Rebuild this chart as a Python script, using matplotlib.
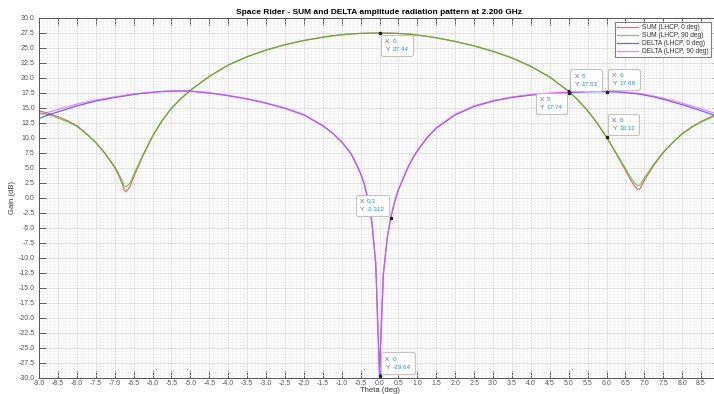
import numpy as np
import matplotlib
matplotlib.use("Agg")
import matplotlib.pyplot as plt
from matplotlib.ticker import MultipleLocator, FixedLocator, FormatStrFormatter
from matplotlib.offsetbox import TextArea, HPacker, VPacker, AnnotationBbox

plt.rcParams['font.family'] = ['Liberation Sans', 'DejaVu Sans']

# theta grid (deg), denser near the nulls
theta = [-9, -8.75, -8.5, -8.25, -8, -7.75, -7.5, -7.25, -7, -6.9, -6.8, -6.75, -6.7, -6.6,
         -6.5, -6.25, -6, -5.75, -5.5, -5.25, -5, -4.5, -4, -3.5, -3, -2.5, -2, -1.5, -1.25,
         -1, -0.75, -0.6, -0.5, -0.4, -0.3, -0.2, -0.1, 0, 0.1, 0.2, 0.3, 0.4, 0.5, 0.6, 0.75,
         0.9, 1, 1.25, 1.5, 2, 2.5, 3, 3.5, 4, 4.5, 5, 5.25, 5.5, 5.75, 6, 6.25, 6.5, 6.6, 6.7,
         6.8, 6.85, 6.9, 7, 7.25, 7.5, 7.75, 8, 8.25, 8.5, 8.75, 9]

sum_0 = [14.5, 14.05, 13.5, 12.85, 12.0, 10.7, 9.2, 7.3, 5.0, 3.8, 2.3, 1.3, 1.0, 1.8,
         3.4, 7.0, 10.2, 12.8, 14.9, 16.5, 17.9, 20.2, 22.1, 23.5, 24.6, 25.5, 26.2, 26.75, 26.98,
         27.15, 27.3, 27.35, 27.38, 27.4, 27.42, 27.43, 27.44, 27.44, 27.44, 27.43, 27.42, 27.4, 27.37, 27.34, 27.28,
         27.17, 27.1, 26.9, 26.65, 26.05, 25.3, 24.4, 23.3, 21.9, 20.1, 17.74, 16.25, 14.5, 12.45, 10.11, 7.4, 4.6, 3.4, 2.3,
         1.5, 1.35, 1.6, 2.9, 5.4, 7.5, 9.2, 10.7, 11.8, 12.7, 13.45, 14.1]

sum_90 = [14.2, 13.8, 13.3, 12.65, 11.9, 10.65, 9.2, 7.4, 5.2, 4.1, 2.8, 2.0, 1.8, 2.4,
          3.8, 7.2, 10.3, 12.85, 14.9, 16.5, 17.9, 20.2, 22.1, 23.5, 24.6, 25.5, 26.2, 26.75, 26.98,
          27.15, 27.3, 27.35, 27.38, 27.4, 27.42, 27.43, 27.44, 27.44, 27.44, 27.43, 27.42, 27.4, 27.37, 27.34, 27.28,
          27.17, 27.1, 26.9, 26.65, 26.05, 25.3, 24.4, 23.3, 21.9, 20.1, 17.74, 16.25, 14.5, 12.45, 10.11, 7.5, 4.9, 3.8, 2.8,
          2.1, 2.0, 2.2, 3.3, 5.6, 7.6, 9.2, 10.6, 11.7, 12.6, 13.3, 13.9]

delta_0 = [13.2, 13.8, 14.3, 14.8, 15.3, 15.7, 16.1, 16.4, 16.7, 16.8, 16.9, 16.95, 17.0, 17.1,
           17.2, 17.4, 17.55, 17.68, 17.75, 17.78, 17.75, 17.45, 17.0, 16.45, 15.75, 14.9, 13.8, 12.0, 10.8,
           9.3, 7.3, 5.4, 4.0, 2.2, -0.4, -4.2, -11.0, -29.64, -13.0, -6.9, -3.312, -0.7, 1.3, 2.8, 5.0,
           6.8, 7.8, 9.9, 11.6, 13.8, 15.2, 16.1, 16.7, 17.1, 17.35, 17.53, 17.6, 17.65, 17.67, 17.68, 17.62, 17.5, 17.45, 17.38,
           17.3, 17.27, 17.23, 17.1, 16.8, 16.4, 15.95, 15.5, 15.0, 14.5, 13.95, 13.4]

delta_90 = [13.8, 14.25, 14.7, 15.15, 15.6, 15.95, 16.3, 16.55, 16.8, 16.9, 17.0, 17.05, 17.1, 17.2,
            17.3, 17.45, 17.6, 17.72, 17.8, 17.8, 17.78, 17.5, 17.05, 16.5, 15.8, 14.95, 13.85, 12.05, 10.85,
            9.35, 7.35, 5.5, 4.1, 2.3, -0.3, -4.1, -10.8, -29.3, -12.8, -6.8, -3.2, -0.6, 1.4, 2.9, 5.1,
            6.9, 7.9, 10.0, 11.7, 13.9, 15.3, 16.2, 16.8, 17.2, 17.45, 17.6, 17.67, 17.72, 17.74, 17.75, 17.7, 17.6, 17.55, 17.48,
            17.42, 17.39, 17.35, 17.25, 16.95, 16.6, 16.2, 15.75, 15.3, 14.8, 14.3, 13.8]

labels = ["SUM (LHCP, 0 deg)", "SUM (LHCP, 90 deg)", "DELTA (LHCP, 0 deg)", "DELTA (LHCP, 90 deg)"]

# data tips: x, y, and which corner of the box sits on the point
tip_x = [0, 0.3, 0, 5, 5, 6, 6]
tip_y = [27.44, -3.312, -29.64, 17.74, 17.53, 17.68, 10.11]
tip_dir = [(1, -1), (-1, 1), (1, 1), (-1, -1), (1, 1), (1, 1), (1, 1)]

fig = plt.figure(figsize=(7.14, 3.94), dpi=100)
ax = fig.add_axes([39 / 714, 16.3 / 394, 681 / 714, 360 / 394])

ax.plot(theta, sum_0, color=(1, 0.2, 0.2), lw=0.9, alpha=0.75, label=labels[0])
ax.plot(theta, sum_90, color=(0.1, 0.8, 0.1), lw=0.9, alpha=0.7, label=labels[1])
ax.plot(theta, delta_0, color=(0.2, 0.2, 1.0), lw=0.9, alpha=0.75, label=labels[2])
ax.plot(theta, delta_90, color=(0.95, 0.3, 0.95), lw=0.9, alpha=0.7, label=labels[3])

ax.set_xlim(-9, 9)
ax.set_ylim(-30, 30)
ax.xaxis.set_major_locator(FixedLocator(np.arange(-9, 8.6, 0.5)))
ax.xaxis.set_minor_locator(MultipleLocator(0.1))
ax.yaxis.set_major_locator(MultipleLocator(2.5))
ax.yaxis.set_minor_locator(MultipleLocator(0.5))
ax.xaxis.set_major_formatter(FormatStrFormatter('%.1f'))
ax.yaxis.set_major_formatter(FormatStrFormatter('%.1f'))
ax.grid(which='major', color='#d4d4d4', lw=0.5)
ax.grid(which='minor', color='#ededed', lw=0.4)
ax.set_axisbelow(True)
ax.tick_params(which='major', direction='in', length=5, width=0.6, top=True, right=True,
               labelsize=5, labelcolor='#555555', color='#444444')
ax.tick_params(axis='x', which='major', pad=1.5)
ax.tick_params(axis='y', which='major', pad=3)
ax.tick_params(which='minor', length=0)
for s in ax.spines.values():
    s.set_color('#555555')
    s.set_linewidth(0.7)

ax.set_title("Space Rider - SUM and DELTA amplitude radiation pattern at 2.200 GHz",
             fontsize=6, fontweight='bold', pad=3)
ax.set_xlabel("Theta (deg)", fontsize=5.5, color='#333333', labelpad=0)
ax.set_ylabel("Gain (dB)", fontsize=5.5, color='#333333', labelpad=2)

leg = ax.legend(loc='upper right', bbox_to_anchor=(1.0, 1 - 19 / 394), bbox_transform=fig.transFigure,
                fontsize=4.8, frameon=True, fancybox=False, handlelength=3.2, handletextpad=0.6,
                borderpad=0.25, labelspacing=0.15)
leg.get_frame().set_edgecolor('#444444')
leg.get_frame().set_linewidth(0.6)
for t in leg.get_texts():
    t.set_color('#333333')

for x, y, (sx, sy) in zip(tip_x, tip_y, tip_dir):
    rows = []
    for k, v in (("X", f"{x:g}"), ("Y", f"{y:g}")):
        rows.append(HPacker(children=[TextArea(k, textprops=dict(color='#666666', size=4.6)),
                                      TextArea(v, textprops=dict(color='#1a8fe0', size=4.6))],
                            sep=2, pad=0, align='baseline'))
    box = VPacker(children=rows, sep=2.2, pad=0, align='left')
    ab = AnnotationBbox(box, (x, y), xybox=(sx * 4.2, sy * 4.2), boxcoords='offset points',
                        box_alignment=((1 - sx) / 2, (1 - sy) / 2), frameon=True,
                        bboxprops=dict(edgecolor='#b8b8b8', facecolor='white', lw=0.6,
                                       boxstyle='round,pad=0.3,rounding_size=0.15'))
    ax.add_artist(ab)
    ax.plot(x, y, 's', color='#222222', ms=1.8)

fig.savefig("out.png", dpi=100)
